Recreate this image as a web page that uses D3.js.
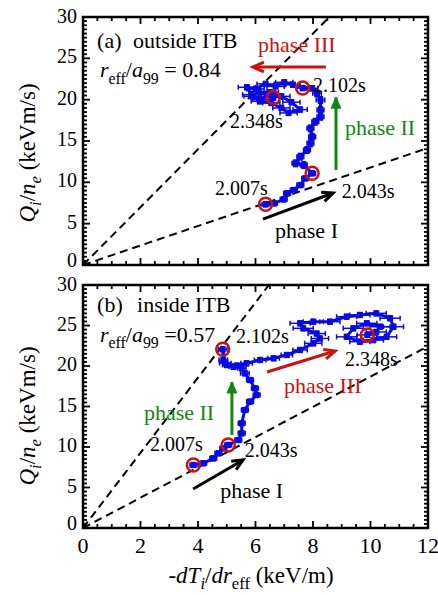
<!DOCTYPE html>
<html><head><meta charset="utf-8">
<script src="https://cdn.jsdelivr.net/npm/d3@7"></script>
<style>body{margin:0;background:#fff}svg{display:block}</style>
</head><body><svg id="c" width="438" height="595" font-family="'Liberation Serif', 'DejaVu Serif', serif"></svg>
<script>
const xTicks=[0,2,4,6,8,10,12];
const yTicks=[0,5,10,15,20,25,30];
// panel (a): outside ITB
const aX=[6.35,6.64,6.98,7.10,7.33,7.56,7.73,7.97,7.68,7.39,7.56,7.79,7.91,7.97,7.91,8.08,8.26,8.26,8.26,8.14,7.97,7.64,7.30,7.00,6.70,6.35,6.00,5.70,5.85,6.20,6.50,6.90,7.25,7.55,7.15,6.90,6.55,6.15,5.90,6.10,6.40,6.62];
const aY=[7.34,7.46,7.94,8.67,9.07,9.67,10.48,11.09,12.09,12.30,13.10,13.91,14.72,15.51,16.53,17.33,17.93,18.74,19.95,20.76,21.37,21.40,21.8,22.1,21.6,21.9,21.3,21.5,20.6,20.0,20.9,20.4,19.7,18.8,18.4,19.0,19.6,19.8,20.4,21.0,20.6,20.25];
const aXerr=[0.12,0.12,0.12,0.12,0.12,0.12,0.12,0.12,0.12,0.12,0.12,0.12,0.12,0.12,0.12,0.12,0.12,0.12,0.15,0.15,0.2,0.2,0.25,0.3,0.3,0.3,0.3,0.3,0.3,0.3,0.3,0.3,0.3,0.25,0.3,0.3,0.3,0.3,0.3,0.3,0.3,0.3];
const aYerr=[0.3,0.3,0.3,0.3,0.3,0.3,0.3,0.3,0.4,0.4,0.4,0.4,0.4,0.4,0.4,0.4,0.4,0.4,0.4,0.4,0.3,0.3,0.3,0.3,0.3,0.3,0.3,0.3,0.3,0.3,0.3,0.3,0.3,0.3,0.3,0.3,0.3,0.3,0.3,0.3,0.3,0.3];
const aMarked=[0,7,21,41];
const aSlopes=[3.5,1.18];
// panel (b): inside ITB
const bX=[3.84,4.18,4.53,4.71,4.88,5.05,5.40,5.52,5.52,5.63,5.81,6.04,5.98,5.81,5.63,5.52,5.23,5.00,4.88,4.86,4.95,5.35,5.69,6.16,6.63,7.09,7.55,8.01,8.24,8.13,7.66,7.55,8.01,8.59,9.17,9.63,10.2,10.68,10.8,10.56,10.1,9.63,9.17,9.40,9.87,10.33,10.2,9.89];
const bY=[7.78,7.99,8.60,9.22,9.84,10.25,10.86,11.69,12.93,14.57,15.60,16.42,17.25,18.27,19.10,19.72,19.91,20.12,20.74,22.06,20.35,20.05,20.33,20.74,20.95,21.36,21.98,22.8,23.4,24.0,24.65,25.27,25.47,25.47,26.09,26.3,26.5,25.9,24.85,23.6,23.2,23.0,23.6,24.65,25.27,24.85,24.2,23.83];
const bXerr=[0.12,0.12,0.12,0.12,0.12,0.12,0.12,0.12,0.12,0.12,0.12,0.12,0.12,0.12,0.15,0.15,0.15,0.15,0.15,0.15,0.2,0.2,0.2,0.2,0.2,0.2,0.25,0.3,0.3,0.3,0.35,0.35,0.35,0.35,0.35,0.35,0.35,0.35,0.35,0.35,0.35,0.35,0.35,0.35,0.35,0.35,0.35,0.35];
const bYerr=[0.3,0.3,0.3,0.3,0.3,0.3,0.3,0.3,0.3,0.3,0.3,0.3,0.3,0.3,0.3,0.3,0.3,0.3,0.3,0.3,0.3,0.3,0.3,0.3,0.3,0.3,0.3,0.3,0.3,0.3,0.3,0.3,0.3,0.3,0.3,0.3,0.3,0.3,0.3,0.3,0.3,0.3,0.3,0.3,0.3,0.3,0.3,0.3];
const bMarked=[0,5,19,47];
const bSlopes=[4.64,1.87];
const timeLabels=["2.007s","2.043s","2.102s","2.348s"];

const svg=d3.select("#c");
const RED="#cc1111", GREEN="#118811", BLUE="#0a0ae0";
const FS=22;

function rich(g,x,y,segs,size,anchor){
  const t=g.append("text").attr("x",x).attr("y",y).attr("font-size",size).attr("text-anchor",anchor||"start");
  segs.forEach(s=>{
    const ts=t.append("tspan").text(s.t);
    if(s.i) ts.attr("font-style","italic");
    if(s.sub){ts.attr("font-size",size*0.72).attr("dy",size*0.28);}
    if(s.up){ts.attr("dy",-size*0.28);}
  });
  return t;
}
function arrow(g,x1,y1,x2,y2,color,filled){
  g.append("line").attr("x1",x1).attr("y1",y1).attr("x2",x2).attr("y2",y2)
   .attr("stroke",color).attr("stroke-width",3);
  const a=Math.atan2(y2-y1,x2-x1), L=12, w=0.42;
  const p1=[x2-L*Math.cos(a-w),y2-L*Math.sin(a-w)], p2=[x2-L*Math.cos(a+w),y2-L*Math.sin(a+w)];
  if(filled){
    g.append("path").attr("d",`M${p1}L${x2},${y2}L${p2}Z`).attr("fill",color).attr("stroke",color).attr("stroke-width",1);
  } else {
    g.append("path").attr("d",`M${p1}L${x2},${y2}L${p2}`).attr("fill","none").attr("stroke",color).attr("stroke-width",3);
  }
}

function panel(cfg){
  const x=d3.scaleLinear().domain([0,12]).range([83,428]);
  const y=d3.scaleLinear().domain([0,30]).range([cfg.y0,cfg.y30]);
  const g=svg.append("g");
  const id="clip"+cfg.name;
  svg.append("clipPath").attr("id",id).append("rect")
    .attr("x",83).attr("y",cfg.y30).attr("width",345).attr("height",cfg.y0-cfg.y30);
  cfg.slopes.forEach(s=>{
    g.append("line").attr("clip-path",`url(#${id})`)
     .attr("x1",x(0)).attr("y1",y(0)).attr("x2",x(12)).attr("y2",y(12*s))
     .attr("stroke","#000").attr("stroke-width",2).attr("stroke-dasharray","8,5");
  });
  const pts=cfg.X.map((v,i)=>[v,cfg.Y[i]]);
  const line=d3.line().x(d=>x(d[0])).y(d=>y(d[1]));
  g.append("path").attr("d",line(pts)).attr("fill","none").attr("stroke",BLUE).attr("stroke-width",3).attr("stroke-linejoin","round");
  const eb=g.append("g").attr("stroke",BLUE).attr("stroke-width",1.5);
  pts.forEach((p,i)=>{
    const cx=x(p[0]), cy=y(p[1]);
    const xl=x(p[0]-cfg.Xe[i]), xr=x(p[0]+cfg.Xe[i]);
    const yt=y(p[1]+cfg.Ye[i]), yb=y(p[1]-cfg.Ye[i]);
    eb.append("line").attr("x1",xl).attr("x2",xr).attr("y1",cy).attr("y2",cy);
    eb.append("line").attr("x1",xl).attr("x2",xl).attr("y1",cy-2.5).attr("y2",cy+2.5);
    eb.append("line").attr("x1",xr).attr("x2",xr).attr("y1",cy-2.5).attr("y2",cy+2.5);
    eb.append("line").attr("x1",cx).attr("x2",cx).attr("y1",yt).attr("y2",yb);
    eb.append("line").attr("x1",cx-2.5).attr("x2",cx+2.5).attr("y1",yt).attr("y2",yt);
    eb.append("line").attr("x1",cx-2.5).attr("x2",cx+2.5).attr("y1",yb).attr("y2",yb);
    g.append("rect").attr("x",cx-3).attr("y",cy-3).attr("width",6).attr("height",6).attr("fill",BLUE);
  });
  cfg.marked.forEach(i=>{
    g.append("circle").attr("cx",x(cfg.X[i])).attr("cy",y(cfg.Y[i])).attr("r",6.5)
     .attr("fill","none").attr("stroke",RED).attr("stroke-width",2.5);
  });
  const ax=svg.append("g");
  ax.append("rect").attr("x",83).attr("y",cfg.y30).attr("width",345).attr("height",cfg.y0-cfg.y30)
    .attr("fill","none").attr("stroke","#000").attr("stroke-width",2.5);
  const tk=ax.append("g").attr("stroke","#000").attr("stroke-width",1.8);
  d3.range(0,12.01,0.5).forEach(v=>{
    const L=(Math.abs(v%2)<1e-6)?7:4;
    tk.append("line").attr("x1",x(v)).attr("x2",x(v)).attr("y1",cfg.y0).attr("y2",cfg.y0-L);
    tk.append("line").attr("x1",x(v)).attr("x2",x(v)).attr("y1",cfg.y30).attr("y2",cfg.y30+L);
  });
  d3.range(0,30.01,0.5).forEach(v=>{
    const L=(Math.abs(v%5)<1e-6)?7:4;
    tk.append("line").attr("x1",83).attr("x2",83+L).attr("y1",y(v)).attr("y2",y(v));
    tk.append("line").attr("x1",428).attr("x2",428-L).attr("y1",y(v)).attr("y2",y(v));
  });
  yTicks.forEach(v=>{
    const off=v===0?2:(v===30?6:5);
    ax.append("text").attr("x",77).attr("y",y(v)+off).attr("text-anchor","end").attr("font-size",20).text(v);
  });
  if(cfg.xlabels){
    xTicks.forEach(v=>{
      ax.append("text").attr("x",x(v)).attr("y",553).attr("text-anchor","middle").attr("font-size",FS).text(v);
    });
  }
  const yl=svg.append("g").attr("transform",`translate(35,${cfg.ylabY}) rotate(-90)`);
  rich(yl,0,0,[{t:"Q",i:1},{t:"i",i:1,sub:1},{t:"/",up:1},{t:"n",i:1},{t:"e",i:1,sub:1},{t:" (keVm/s)",up:1}],23,"middle");
  const A=cfg.ann, an=svg.append("g");
  an.append("text").attr("x",x(A.tag[0])).attr("y",y(A.tag[1])).attr("font-size",FS).text(cfg.tag);
  an.append("text").attr("x",x(A.title[0])).attr("y",y(A.title[1])).attr("font-size",FS).text(cfg.title);
  rich(an,x(A.r[0]),y(A.r[1]),[{t:"r",i:1},{t:"eff",sub:1},{t:"/",up:1},{t:"a",i:1},{t:"99",sub:1},{t:cfg.rtext,up:1}],FS);
  timeLabels.forEach((t,k)=>{
    an.append("text").attr("x",x(A.times[k][0])).attr("y",y(A.times[k][1])).attr("font-size",20).text(t);
  });
  an.append("text").attr("x",x(A.p1[0])).attr("y",y(A.p1[1])).attr("font-size",FS).text("phase I");
  an.append("text").attr("x",x(A.p2[0])).attr("y",y(A.p2[1])).attr("font-size",FS).attr("fill",GREEN).text("phase II");
  an.append("text").attr("x",x(A.p3[0])).attr("y",y(A.p3[1])).attr("font-size",FS).attr("fill",RED).text("phase III");
  arrow(an,x(A.a1[0]),y(A.a1[1]),x(A.a1[2]),y(A.a1[3]),"#000",false);
  arrow(an,x(A.a2[0]),y(A.a2[1]),x(A.a2[2]),y(A.a2[3]),GREEN,true);
  arrow(an,x(A.a3[0]),y(A.a3[1]),x(A.a3[2]),y(A.a3[3]),RED,false);
}

panel({name:"a",y0:265,y30:17,X:aX,Y:aY,Xe:aXerr,Ye:aYerr,marked:aMarked,slopes:aSlopes,xlabels:false,ylabY:153,
  tag:"(a)",title:"outside ITB",rtext:" = 0.84",
  ann:{tag:[0.49,26.3],title:[1.74,26.3],r:[0.59,22.7],
    times:[[4.59,8.47],[9.0,8.1],[8.0,20.9],[5.11,16.6]],
    p1:[6.68,3.27],p2:[9.11,15.7],p3:[6.09,25.8],
    a1:[6.26,5.56,8.70,8.71],a2:[8.8,11.5,8.8,20.3],a3:[8.45,23.95,5.91,23.95]}});
panel({name:"b",y0:528,y30:285,X:bX,Y:bY,Xe:bXerr,Ye:bYerr,marked:bMarked,slopes:bSlopes,xlabels:true,ylabY:416,
  tag:"(b)",title:"inside ITB",rtext:" =0.57",
  ann:{tag:[0.49,26.67],title:[1.88,26.67],r:[0.59,22.96],
    times:[[2.33,9.5],[5.63,8.77],[5.32,22.84],[9.11,20.0]],
    p1:[4.77,3.7],p2:[2.12,13.33],p3:[6.99,16.67],
    a1:[3.83,4.81,5.57,8.4],a2:[5.18,11.48,5.18,18.02],a3:[6.4,19.26,8.77,21.85]}});
rich(svg.append("g"),251,583,[{t:"-"},{t:"dT",i:1},{t:"i",i:1,sub:1},{t:"/",up:1},{t:"dr",i:1},{t:"eff",sub:1},{t:" (keV/m)",up:1}],23,"middle");
</script></body></html>
